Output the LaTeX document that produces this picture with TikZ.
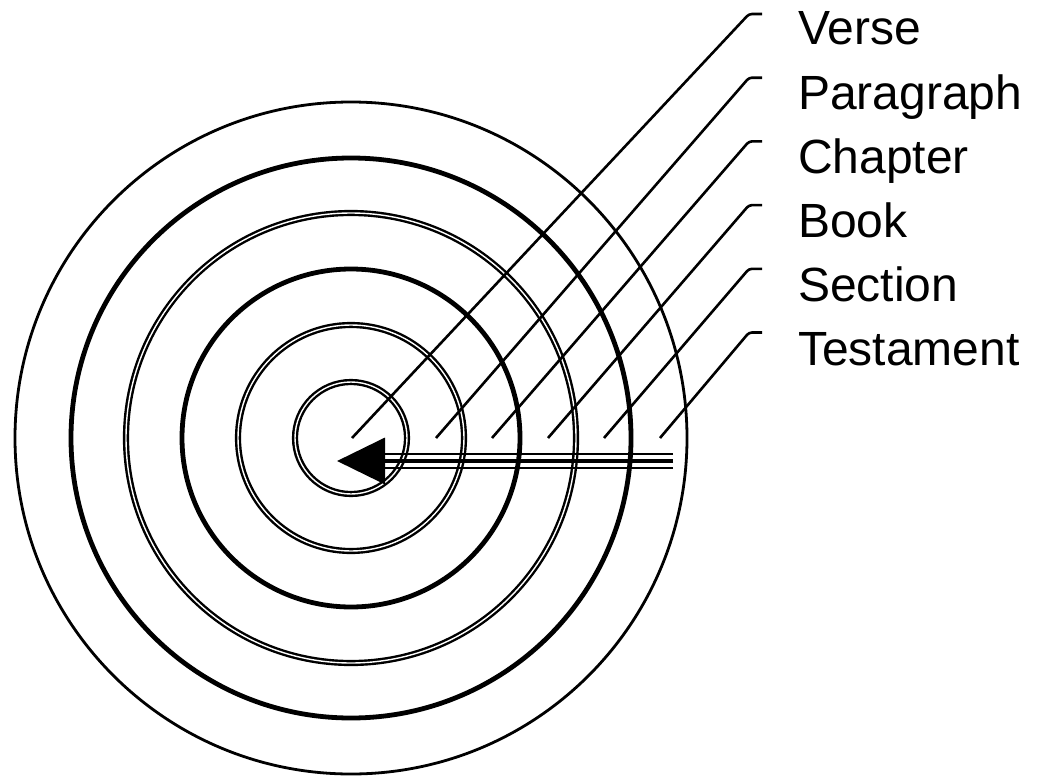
\documentclass[tikz,border=0pt]{standalone}
\usepackage{fontspec}
\setmainfont{Liberation Sans}
\usetikzlibrary{arrows.meta}
\tikzset{px/.style={x=1pt,y=-1pt,line width=2.4pt,font=\fontsize{48}{52}\selectfont},
  thinring/.style={line width=2.8pt},
  boldring/.style={line width=4.8pt},
  dblring/.style={line width=2.4pt,double,double distance=1.4pt},
  leader/.style={line width=2.6pt,rounded corners=3pt},
  lbl/.style={anchor=base west,inner sep=0pt}}

\begin{document}
\begin{tikzpicture}[px]
  \useasboundingbox (0,0) rectangle (1038,776);
  \coordinate (c) at (351,438);
  \foreach \r/\s in {56/dblring,113/dblring,169/boldring,225/dblring,280/boldring,336/thinring}{\draw[\s] (c) circle (\r pt);}
  % leaders and labels
  \foreach \i/\t/\x in {0/Verse/352,1/Paragraph/436,2/Chapter/492,3/Book/548,4/Section/604,5/Testament/660}{
    \node[lbl] (l\i) at (797,{45+64*\i}) {\t};
    \coordinate (f\i) at (\x,438);
    \coordinate (k\i) at (749,{14+63.7*\i});
    \draw[leader] (f\i) -- (k\i) -- ++(13,0);}
  % arrow
  \coordinate (tail) at (673,461);
  \coordinate (neck) at (385,461);
  \coordinate (tip) at (337,461);
  \draw[line width=3.8pt,-{Triangle[length=48pt,width=46pt]}] (tail) -- (tip);
  \foreach \d in {-7,7}{\draw[line width=2.6pt] ([yshift=\d pt]tail) -- ([yshift=\d pt]neck);}
\end{tikzpicture}
\end{document}
